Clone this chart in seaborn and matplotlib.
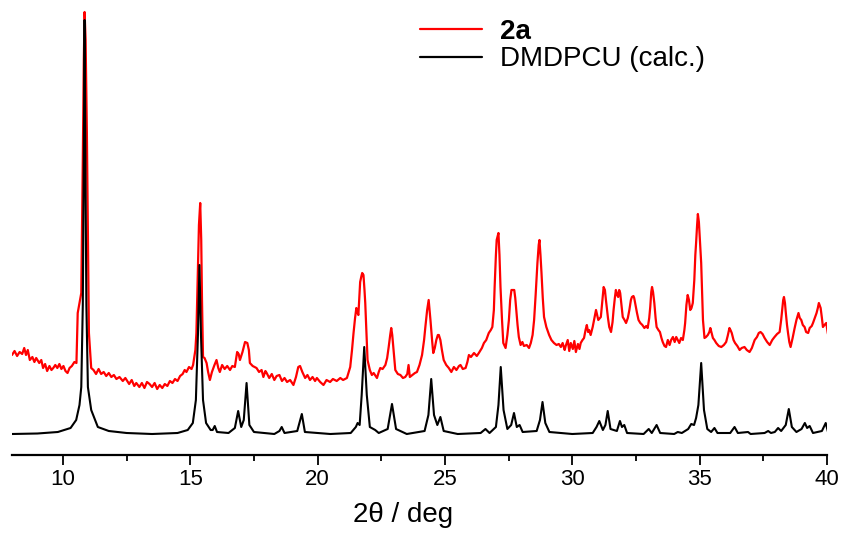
import numpy as np
import pandas as pd
import matplotlib
matplotlib.use("Agg")
import matplotlib.pyplot as plt
from matplotlib.ticker import MultipleLocator
import seaborn as sns

# ---------------- data ----------------
red_label = "2a"
black_label = "DMDPCU (calc.)"
x_label = "2\u03b8 / deg"
x_ticks = [10, 15, 20, 25, 30, 35, 40]

red_2theta = [
    8.00, 8.10, 8.20, 8.30, 8.40, 8.48, 8.55, 8.62, 8.70, 8.80, 8.88, 8.95, 9.07, 9.15, 9.22, 9.30,
    9.38, 9.47, 9.55, 9.62, 9.70, 9.78, 9.86, 9.94, 10.02, 10.10, 10.18, 10.26, 10.35, 10.45, 10.53,
    10.58, 10.72, 10.78, 10.82, 10.85, 10.89, 10.94, 11.02, 11.11, 11.20, 11.30, 11.40, 11.50, 11.60,
    11.70, 11.80, 11.90, 12.00, 12.10, 12.22, 12.35, 12.45, 12.60, 12.70, 12.80, 12.88, 13.00, 13.10,
    13.20, 13.30, 13.40, 13.50, 13.60, 13.70, 13.80, 13.90, 14.00, 14.10, 14.20, 14.30, 14.40, 14.50,
    14.60, 14.70, 14.78, 14.85, 14.95, 15.05, 15.11, 15.20, 15.24, 15.30, 15.34, 15.39, 15.43, 15.46,
    15.50, 15.56, 15.64, 15.70, 15.77, 15.85, 15.95, 16.03, 16.10, 16.16, 16.25, 16.35, 16.45, 16.56,
    16.65, 16.75, 16.84, 16.90, 16.95, 17.05, 17.15, 17.24, 17.30, 17.34, 17.45, 17.60, 17.70, 17.80,
    17.87, 17.95, 18.00, 18.10, 18.20, 18.30, 18.39, 18.50, 18.60, 18.70, 18.80, 18.92, 19.05, 19.15,
    19.24, 19.31, 19.40, 19.51, 19.60, 19.70, 19.80, 19.90, 19.97, 20.10, 20.23, 20.35, 20.49, 20.60,
    20.75, 20.89, 21.00, 21.15, 21.28, 21.35, 21.41, 21.47, 21.52, 21.56, 21.60, 21.64, 21.67, 21.72,
    21.75, 21.80, 21.84, 21.87, 21.92, 21.96, 22.05, 22.13, 22.20, 22.33, 22.40, 22.46, 22.55, 22.66,
    22.73, 22.79, 22.85, 22.89, 22.93, 22.98, 23.05, 23.15, 23.25, 23.35, 23.44, 23.52, 23.57, 23.62,
    23.72, 23.82, 23.90, 24.00, 24.10, 24.18, 24.23, 24.30, 24.36, 24.43, 24.50, 24.54, 24.60, 24.66,
    24.72, 24.76, 24.82, 24.88, 24.95, 25.05, 25.15, 25.25, 25.35, 25.45, 25.55, 25.61, 25.70, 25.81,
    25.88, 25.94, 26.02, 26.14, 26.25, 26.33, 26.45, 26.53, 26.62, 26.72, 26.80, 26.86, 26.92, 26.95,
    27.00, 27.03, 27.07, 27.10, 27.14, 27.18, 27.24, 27.29, 27.38, 27.45, 27.51, 27.56, 27.61, 27.66,
    27.72, 27.76, 27.80, 27.85, 27.90, 27.97, 28.04, 28.10, 28.21, 28.30, 28.37, 28.44, 28.50, 28.56,
    28.63, 28.68, 28.71, 28.75, 28.79, 28.84, 28.89, 28.98, 29.09, 29.18, 29.28, 29.38, 29.47, 29.55,
    29.62, 29.70, 29.74, 29.82, 29.88, 29.94, 30.02, 30.08, 30.14, 30.22, 30.28, 30.33, 30.40, 30.46,
    30.52, 30.57, 30.62, 30.66, 30.72, 30.80, 30.87, 30.93, 31.02, 31.12, 31.18, 31.23, 31.28, 31.32,
    31.40, 31.45, 31.52, 31.58, 31.62, 31.67, 31.71, 31.76, 31.80, 31.84, 31.88, 31.93, 31.98, 32.05,
    32.11, 32.18, 32.24, 32.30, 32.34, 32.40, 32.43, 32.48, 32.54, 32.60, 32.67, 32.75, 32.83, 32.90,
    32.96, 33.02, 33.06, 33.10, 33.13, 33.17, 33.22, 33.27, 33.31, 33.38, 33.44, 33.50, 33.55, 33.62,
    33.68, 33.75, 33.82, 33.88, 33.95, 34.02, 34.08, 34.14, 34.20, 34.27, 34.34, 34.40, 34.43, 34.48,
    34.53, 34.58, 34.63, 34.68, 34.73, 34.79, 34.83, 34.86, 34.90, 34.93, 34.97, 35.01, 35.06, 35.10,
    35.13, 35.19, 35.25, 35.32, 35.38, 35.42, 35.47, 35.52, 35.58, 35.65, 35.75, 35.85, 35.95, 36.04,
    36.10, 36.17, 36.21, 36.26, 36.33, 36.39, 36.48, 36.57, 36.65, 36.76, 36.85, 36.96, 37.05, 37.16,
    37.25, 37.32, 37.39, 37.47, 37.55, 37.65, 37.75, 37.85, 37.94, 38.04, 38.14, 38.20, 38.24, 38.28,
    38.31, 38.35, 38.38, 38.43, 38.47, 38.52, 38.57, 38.65, 38.73, 38.80, 38.88, 38.93, 38.99, 39.05,
    39.12, 39.18, 39.26, 39.32, 39.40, 39.45, 39.52, 39.59, 39.64, 39.68, 39.72, 39.75, 39.80, 39.84,
    39.90, 39.97, 40.03, 40.07, 40.14,
]
red_intensity = [
    100, 104, 99, 103, 101, 107, 100, 105, 95, 98, 93, 97, 92, 95, 87, 91,
    84, 89, 85, 87, 90, 87, 91, 86, 89, 84, 82, 87, 89, 93, 92,
    142, 162, 295, 395, 443, 415, 322, 122, 87, 85, 81, 86, 81, 83,
    79, 82, 78, 80, 76, 78, 74, 77, 71, 75, 69, 72, 68, 72,
    67, 73, 71, 68, 72, 66, 70, 67, 71, 69, 74, 72, 76, 74,
    79, 81, 85, 83, 88, 86, 90, 105, 122, 185, 230, 252, 215, 155,
    98, 97, 92, 83, 75, 83, 90, 95, 87, 83, 90, 86, 89, 85,
    89, 88, 103, 101, 95, 103, 113, 112, 105, 92, 89, 87, 83, 85,
    78, 84, 82, 77, 81, 75, 79, 80, 74, 77, 73, 75, 70, 78,
    88, 89, 83, 77, 80, 75, 78, 74, 77, 73, 70, 75, 73, 76,
    74, 77, 75, 77, 88, 105, 122, 137, 147, 143, 140, 160, 173, 179,
    182, 180, 165, 152, 120, 95, 85, 80, 82, 77, 83, 87, 86, 90,
    97, 108, 120, 127, 120, 105, 85, 81, 80, 77, 78, 81, 90, 78,
    80, 82, 83, 90, 100, 115, 128, 145, 155, 135, 113, 102, 107, 115,
    120, 120, 115, 105, 95, 90, 87, 83, 88, 85, 89, 90, 86, 87,
    93, 100, 98, 102, 99, 102, 107, 112, 115, 122, 125, 128, 145, 168,
    200, 215, 219, 222, 200, 168, 135, 112, 107, 120, 135, 155, 165, 165,
    165, 157, 145, 130, 118, 110, 113, 109, 110, 107, 112, 120, 135, 160,
    192, 210, 215, 200, 182, 157, 138, 128, 120, 115, 112, 110, 111, 108,
    112, 105, 109, 115, 104, 112, 106, 114, 103, 111, 106, 112, 115, 117,
    125, 130, 123, 125, 120, 128, 137, 145, 135, 138, 155, 168, 165, 155,
    137, 128, 123, 133, 145, 157, 165, 160, 158, 165, 162, 150, 138, 135,
    132, 137, 145, 155, 158, 159, 157, 150, 142, 135, 132, 130, 127, 129,
    127, 137, 148, 163, 168, 163, 152, 137, 128, 125, 123, 117, 113, 109,
    108, 115, 110, 115, 118, 113, 118, 115, 112, 117, 115, 125, 132, 150,
    160, 155, 145, 147, 152, 175, 200, 212, 230, 241, 233, 215, 192, 160,
    135, 117, 118, 120, 123, 127, 122, 117, 115, 112, 109, 108, 110, 113,
    119, 127, 125, 122, 115, 112, 109, 105, 107, 108, 105, 103, 107, 115,
    118, 122, 123, 121, 117, 113, 110, 115, 118, 121, 123, 135, 145, 155,
    158, 152, 143, 130, 122, 113, 108, 117, 127, 135, 142, 137, 135, 130,
    128, 123, 122, 127, 129, 132, 137, 142, 147, 152, 149, 147, 137, 128,
    130, 132, 122, 118, 123,
]

black_2theta = [
    8.00, 9.00, 9.80, 10.30, 10.52, 10.65, 10.72, 10.78, 10.82, 10.85, 10.88, 10.92, 10.98, 11.11,
    11.37, 11.80, 12.50, 13.50, 14.50, 14.90, 15.10, 15.22, 15.30, 15.36, 15.42, 15.50, 15.62, 15.80,
    15.88, 15.96, 16.05, 16.50, 16.75, 16.88, 17.00, 17.10, 17.21, 17.32, 17.50, 18.30, 18.50, 18.59,
    18.70, 19.20, 19.38, 19.50, 20.50, 21.30, 21.50, 21.57, 21.65, 21.73, 21.83, 21.93, 22.05, 22.26,
    22.40, 22.75, 22.92, 23.08, 23.50, 24.20, 24.35, 24.46, 24.57, 24.70, 24.82, 24.95, 25.50, 26.40,
    26.59, 26.75, 27.00, 27.10, 27.19, 27.30, 27.45, 27.60, 27.71, 27.82, 27.93, 28.05, 28.60, 28.73,
    28.83, 28.94, 29.10, 30.00, 30.80, 30.95, 31.06, 31.20, 31.30, 31.39, 31.50, 31.75, 31.87, 31.95,
    32.04, 32.15, 32.80, 33.00, 33.12, 33.31, 33.45, 34.00, 34.14, 34.30, 34.55, 34.67, 34.78, 34.86,
    34.95, 35.06, 35.17, 35.30, 35.45, 35.58, 35.70, 36.20, 36.37, 36.50, 36.90, 37.00, 37.55, 37.69,
    37.80, 37.95, 38.08, 38.20, 38.38, 38.50, 38.62, 38.80, 39.00, 39.13, 39.22, 39.32, 39.45, 39.80,
    39.95, 40.05,
]
black_intensity = [
    21, 21.5, 23, 27, 35, 50, 68, 150, 300, 435, 300, 150, 68, 45,
    28, 24, 22, 21, 22, 25, 32, 55, 120, 190, 120, 55, 32, 25,
    25, 29, 23, 22, 27, 44, 28, 35, 72, 30, 23, 21, 24, 28,
    22, 24, 41, 23, 21, 22, 28, 32, 30, 60, 108, 60, 28, 25,
    22, 26, 51, 26, 21, 24, 40, 76, 40, 30, 38, 24, 21, 22,
    26, 22, 28, 50, 88, 45, 26, 30, 42, 28, 30, 23, 24, 35,
    53, 32, 23, 21, 22, 28, 34, 25, 30, 44, 26, 24, 34, 28,
    30, 22, 21, 26, 22, 30, 22, 21, 23, 22, 26, 31, 30, 37,
    50, 92, 45, 26, 23, 27, 22, 22, 28, 22, 23, 21, 22, 24,
    22, 23, 27, 24, 30, 46, 28, 23, 26, 32, 27, 29, 22, 24,
    32, 22,
]

red_df = pd.DataFrame({"two_theta": red_2theta, "intensity": red_intensity})
black_df = pd.DataFrame({"two_theta": black_2theta, "intensity": black_intensity})

# ---------------- styling ----------------
sns.set_theme(style="white")
plt.rcParams["font.family"] = ["Liberation Sans", "DejaVu Sans"]
plt.rcParams["text.color"] = "black"
plt.rcParams["xtick.color"] = "black"
plt.rcParams["axes.labelcolor"] = "black"

W, H = 845, 533
fig = plt.figure(figsize=(W / 100, H / 100), dpi=100)
ax = fig.add_axes([12 / W, (H - 455) / H, 815 / W, 445 / H])

sns.lineplot(data=red_df, x="two_theta", y="intensity", ax=ax, color="#ff0000",
             linewidth=1.6, estimator=None, sort=False, label=red_label)
sns.lineplot(data=black_df, x="two_theta", y="intensity", ax=ax, color="black",
             linewidth=1.5, estimator=None, sort=False, label=black_label)

ax.set_xlim(8, 40)
ax.set_ylim(0, 445)
ax.set_xticks(x_ticks)
ax.set_xticklabels([str(t) for t in x_ticks])
ax.xaxis.set_minor_locator(MultipleLocator(2.5))
ax.set_yticks([])
ax.set_ylabel("")
for s in ["left", "right", "top"]:
    ax.spines[s].set_visible(False)
ax.spines["bottom"].set_linewidth(1.6)
ax.spines["bottom"].set_color("black")
ax.tick_params(axis="x", which="major", direction="out", length=7.2, width=1.3,
               labelsize=16, pad=3, colors="black", bottom=True)
ax.tick_params(axis="x", which="minor", direction="out", length=4.3, width=1.3,
               colors="black", bottom=True)
ax.set_xlabel(x_label, fontsize=20, labelpad=6, color="black")
ax.xaxis.set_label_coords(0.48, -0.105)
ax.patch.set_alpha(0)

leg = ax.legend(loc="upper left", bbox_to_anchor=(420 / W, 1 - 19 / H),
                bbox_transform=fig.transFigure, frameon=False, fontsize=20,
                handlelength=2.23, handletextpad=0.65, labelspacing=0.05,
                borderpad=0, borderaxespad=0)
for line in leg.get_lines():
    line.set_linewidth(1.6)
for t in leg.get_texts():
    t.set_color("black")
leg.get_texts()[0].set_fontweight("bold")

fig.savefig("out.png", dpi=100)
